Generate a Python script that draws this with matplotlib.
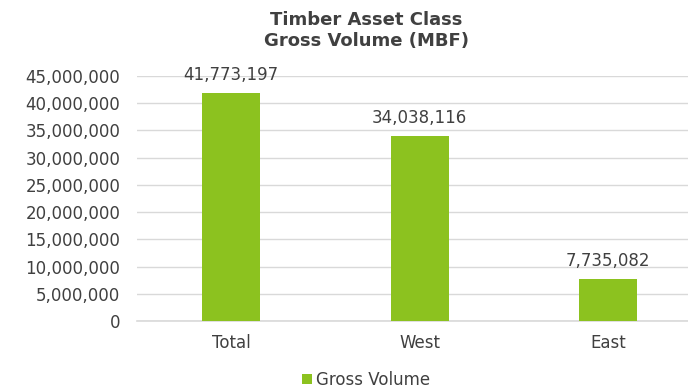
import matplotlib.pyplot as plt
from matplotlib.ticker import FuncFormatter

regions = ['Total', 'West', 'East']
gross_volume = [41773197, 34038116, 7735082]

bar_color = '#8cc21f'
text_color = '#404040'

fig = plt.figure(figsize=(6.88, 3.91), dpi=100)
ax = fig.add_axes([0.1991, 0.179, 0.8009, 0.627])

x = range(len(regions))
bars = ax.bar(x, gross_volume, width=0.308, color=bar_color, label='Gross Volume', zorder=2)

# value labels above each bar
for xi, v in zip(x, gross_volume):
    ax.annotate(f'{v:,}', (xi, v), xytext=(0, 13), textcoords='offset points',
                ha='center', va='center', fontsize=12, color=text_color)

ax.set_ylim(0, 45000000)
ax.set_yticks(range(0, 45000001, 5000000))
ax.yaxis.set_major_formatter(FuncFormatter(lambda v, p: f'{int(v):,}'))
ax.set_xlim(-0.5, 2.424)
ax.set_xticks(list(x))
ax.set_xticklabels(regions)
ax.tick_params(axis='both', length=0, labelsize=12, labelcolor=text_color)
ax.tick_params(axis='x', pad=9)
ax.tick_params(axis='y', pad=12)
ax.grid(axis='y', color='#d9d9d9', linewidth=1, zorder=0)
ax.axhline(0, color='#d9d9d9', linewidth=1.2, zorder=1, clip_on=False)
for s in ax.spines.values():
    s.set_visible(False)

fig.text(0.532, 0.921, 'Timber Asset Class\nGross Volume (MBF)', ha='center', va='center',
         fontsize=13, fontweight='bold', color=text_color, linespacing=1.2)

fig.legend(handles=[bars], labels=['Gross Volume'], loc='center', bbox_to_anchor=(0.532, 0.028),
           frameon=False, fontsize=12, labelcolor=text_color, handlelength=0.6,
           handleheight=0.6, handletextpad=0.2)

fig.savefig('out.png', dpi=100)
